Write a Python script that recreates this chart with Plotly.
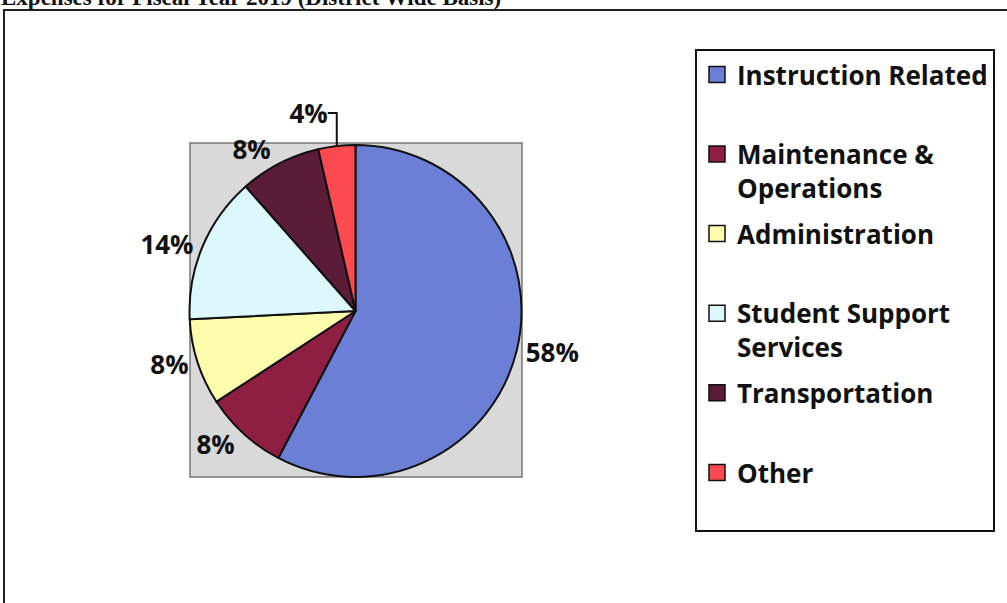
import plotly.graph_objects as go

W, H = 1007, 603

categories = ["Instruction Related", "Maintenance & Operations", "Administration",
              "Student Support Services", "Transportation", "Other"]
legend_names = ["Instruction Related<br>\u00a0", "Maintenance &<br>Operations",
                "Administration<br>\u00a0", "Student Support<br>Services",
                "Transportation<br>\u00a0", "Other<br>\u00a0"]
values = [57.7, 8.1, 8.4, 14.3, 7.9, 3.6]
colors = ["#6b7fd6", "#8e1f42", "#fdfdab", "#dcf8fd", "#5a1c36", "#fb4a50"]

title_text = "Expenses for Fiscal Year 2019 (District Wide Basis)"

def px(x):
    return x / W

def py(y):
    return 1 - y / H

fig = go.Figure()

fig.add_trace(go.Pie(
    labels=categories,
    values=values,
    sort=False,
    direction="clockwise",
    rotation=0,
    marker=dict(colors=colors, line=dict(color="#111111", width=2)),
    textposition="outside",
    texttemplate="%{percent:.0%}",
    textfont=dict(family="Open Sans", size=26, color="#111111", weight="bold"),
    domain=dict(x=[px(189.5), px(521.5)], y=[py(478), py(144)]),
    hoverinfo="label+percent",
    showlegend=False,
))

# legend entries (one per category, same colours as the slices)
for name, col, i in zip(legend_names, colors, range(len(colors))):
    fig.add_trace(go.Scatter(
        x=[None], y=[None], mode="markers", name=name,
        legendgroup=f"g{i}",
        marker=dict(symbol="square", size=16, color=col,
                    line=dict(color="#111111", width=1.5)),
        hoverinfo="skip",
    ))

fig.update_layout(
    width=W, height=H,
    margin=dict(l=0, r=0, t=0, b=0),
    paper_bgcolor="white",
    plot_bgcolor="rgba(0,0,0,0)",
    xaxis=dict(visible=False),
    yaxis=dict(visible=False),
    showlegend=True,
    legend=dict(
        x=px(695), y=py(49), xanchor="left", yanchor="top",
        bordercolor="#111111", borderwidth=2, bgcolor="white",
        font=dict(family="Open Sans", size=26, color="#111111", weight="bold"),
        valign="top",
        traceorder="grouped",
        tracegroupgap=9,
    ),
    shapes=[
        dict(type="rect", xref="paper", yref="paper",
             x0=px(4), x1=1.05, y0=-0.05, y1=py(10),
             line=dict(color="#222222", width=2), fillcolor="rgba(0,0,0,0)", layer="below"),
        dict(type="rect", xref="paper", yref="paper",
             x0=px(190), x1=px(522), y0=py(477), y1=py(143),
             line=dict(color="#777777", width=1.5), fillcolor="#d9d9d9", layer="below"),
    ],
    annotations=[
        dict(text=title_text, xref="paper", yref="paper", x=0, y=py(11),
             xanchor="left", yanchor="bottom", showarrow=False, borderpad=0,
             font=dict(family="Liberation Serif", size=23, color="#111111", weight="bold")),
    ],
)

fig.write_html("out.html", config={"displayModeBar": False},
               post_script="document.body.style.margin='0';")
